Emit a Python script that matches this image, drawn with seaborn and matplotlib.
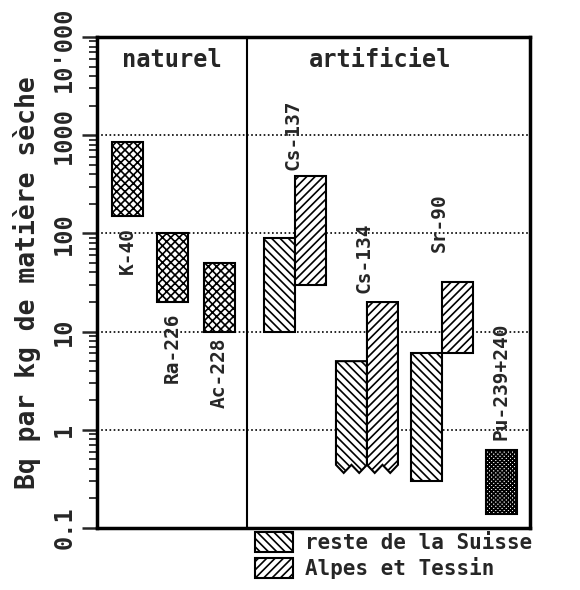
import matplotlib
matplotlib.use('Agg')
import matplotlib.pyplot as plt
import matplotlib.transforms as mtransforms
from matplotlib.patches import Patch
from matplotlib.ticker import NullFormatter, LogLocator
import seaborn as sns

# ── data: ranges in Bq per kg dry matter ──
natural_names = ['K-40', 'Ra-226', 'Ac-228']
natural_low = [150, 20, 10]
natural_high = [850, 100, 50]

artificial_names = ['Cs-137', 'Cs-134', 'Sr-90']
reste_low = [10, 0.4, 0.3]
reste_high = [90, 5, 6]
alpes_low = [30, 0.4, 6]
alpes_high = [380, 20, 32]
open_bottom = [False, True, False]   # below detection limit -> jagged bottom

pu_name = 'Pu-239+240'
pu_low = 0.14
pu_high = 0.62

yticks = [0.1, 1, 10, 100, 1000, 10000]
ytick_labels = ['0.1', '1', '10', '100', '1000', "10'000"]
group_labels = ['naturel', 'artificiel']
legend_labels = ['reste de la Suisse', 'Alpes et Tessin']

# ── layout ──
natural_x = [0.98, 2.44, 3.95]
pair_x = [6.39, 8.71, 11.13]
pu_x = 13.05
divider_x = 4.84
group_x = [2.42, 9.13]
bar_w = 1.0
natural_label_y = [116, 15.5, 8.8]     # top end of rotated label
artificial_label_y = [443, 24.7, 64]   # bottom end of rotated label
pu_label_y = 0.79

MONO = 'DejaVu Sans Mono'
H_RESTE = '\\\\\\\\'
H_ALPES = '////'
H_NAT = 'xxxx'
H_PU = 'xxxxxxxx'
TICK_FS = 17

sns.set_style('white')
plt.rcParams['font.family'] = [MONO, 'DejaVu Sans']
plt.rcParams['hatch.linewidth'] = 1.2

fig = plt.figure(figsize=(5.8, 5.9), dpi=100)
ax = fig.add_axes([97/580, 1 - 528/590, 433/580, 491/590])
ax.set_yscale('log')
ax.set_ylim(0.1, 10000)
ax.set_xlim(0, 13.97)


def jagged_bar(ax, xc, low, high, hatch, teeth=2, depth=1.1):
    x0 = xc - bar_w / 2
    xs = [x0, x0 + bar_w, x0 + bar_w]
    ys = [high, high, low * depth]
    for i in range(teeth - 1, -1, -1):
        xs += [x0 + (i + 0.5) * bar_w / teeth, x0 + i * bar_w / teeth]
        ys += [low / depth, low * depth]
    xs.append(x0)
    ys.append(high)
    ax.fill(xs, ys, facecolor='white', edgecolor='black', hatch=hatch,
            lw=1.5, zorder=3)


# natural nuclides
ax.bar(natural_x, [h - l for h, l in zip(natural_high, natural_low)],
       bottom=natural_low, width=bar_w, facecolor='white', edgecolor='black',
       hatch=H_NAT, lw=1.5, zorder=3)

# artificial nuclides: two regions side by side
for i, xc in enumerate(pair_x):
    xr, xa = xc - bar_w / 2, xc + bar_w / 2
    if open_bottom[i]:
        jagged_bar(ax, xr, reste_low[i], reste_high[i], H_RESTE)
        jagged_bar(ax, xa, alpes_low[i], alpes_high[i], H_ALPES)
    else:
        ax.bar(xr, reste_high[i] - reste_low[i], bottom=reste_low[i],
               width=bar_w, facecolor='white', edgecolor='black',
               hatch=H_RESTE, lw=1.5, zorder=3)
        ax.bar(xa, alpes_high[i] - alpes_low[i], bottom=alpes_low[i],
               width=bar_w, facecolor='white', edgecolor='black',
               hatch=H_ALPES, lw=1.5, zorder=3)

ax.bar(pu_x, pu_high - pu_low, bottom=pu_low, width=bar_w,
       facecolor='white', edgecolor='black', hatch=H_PU, lw=1.5, zorder=3)

# nuclide labels
lab_kw = dict(rotation=90, ha='center', fontsize=14, fontweight='bold', zorder=4)
for x, y, name in zip(natural_x, natural_label_y, natural_names):
    ax.text(x, y, name, va='top', **lab_kw)
for x, y, name in zip(pair_x, artificial_label_y, artificial_names):
    ax.text(x - 0.08, y, name, va='bottom', **lab_kw)
ax.text(pu_x, pu_label_y, pu_name, va='bottom', **lab_kw)

# group headings and divider
trans = mtransforms.blended_transform_factory(ax.transData, ax.transAxes)
for x, g in zip(group_x, group_labels):
    ax.text(x, 0.953, g, transform=trans, ha='center', va='center',
            fontsize=17, fontweight='bold')
ax.axvline(divider_x, color='black', lw=1.5, zorder=2)

# dotted decade lines
for v in yticks[1:-1]:
    ax.axhline(v, color='black', lw=1.2, ls=(0, (1, 1.5)), zorder=1)

# axes styling
ax.set_xticks([])
ax.set_yticks(yticks)
# the top label is drawn separately, nudged down so it stays inside the figure
ax.set_yticklabels(ytick_labels[:-1] + [''], rotation=90, va='center',
                   fontsize=TICK_FS, fontweight='bold')
ax.annotate(ytick_labels[-1], xy=(0, yticks[-1]),
            xycoords=('axes fraction', 'data'), xytext=(-15, -9),
            textcoords='offset points', rotation=90, ha='right', va='center',
            fontsize=TICK_FS, fontweight='bold', annotation_clip=False)
ax.yaxis.set_minor_locator(LogLocator(base=10, subs=range(2, 10)))
ax.yaxis.set_minor_formatter(NullFormatter())
ax.tick_params(axis='y', which='major', direction='out', length=11, width=1.8,
               pad=4, left=True)
ax.tick_params(axis='y', which='minor', direction='out', length=6, width=1.3,
               left=True)
for s in ax.spines.values():
    s.set_linewidth(2.5)
    s.set_color('black')
ax.set_ylabel('Bq par kg de matière sèche', fontsize=19, fontweight='bold',
              labelpad=8)

# legend below the plot
handles = [Patch(facecolor='white', edgecolor='black', hatch=H_RESTE, lw=1.5),
           Patch(facecolor='white', edgecolor='black', hatch=H_ALPES, lw=1.5)]
fig.legend(handles, legend_labels, loc='upper left',
           bbox_to_anchor=(255/580, 1 - 532/590), frameon=False,
           prop=dict(family=MONO, weight='bold', size=15),
           handlelength=1.8, handleheight=1.1, handletextpad=0.6,
           labelspacing=0.2, borderpad=0, borderaxespad=0)

fig.savefig('out.png', dpi=100, facecolor='white')
